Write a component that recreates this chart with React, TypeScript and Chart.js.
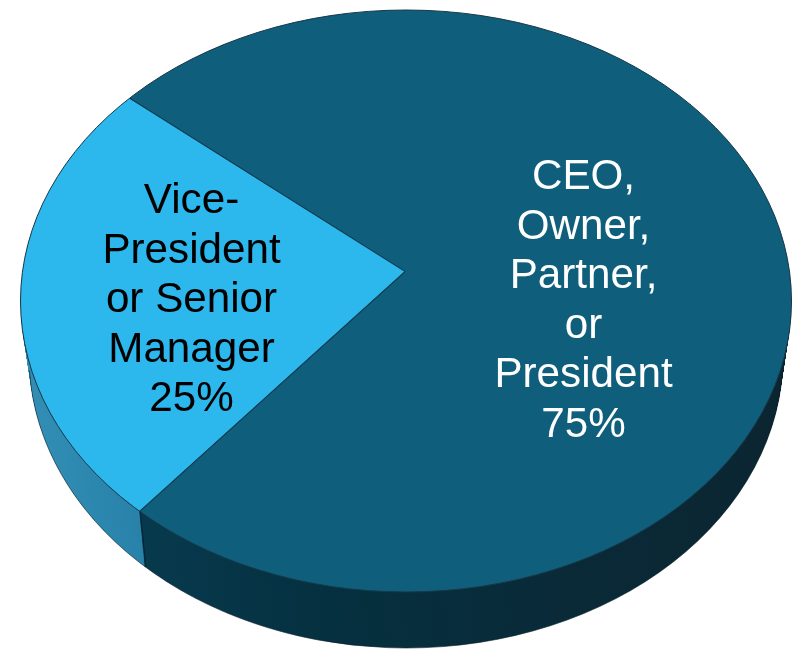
import React, { useEffect, useRef } from "react";
import { Chart, registerables } from "chart.js";

Chart.register(...registerables);

const categories = ["CEO, Owner, Partner, or President", "Vice-President or Senior Manager"];
const shares = [75, 25];
const sliceColors = ["#0f5e7c", "#2cb7ed"];
const labelLines = [
  ["CEO,", "Owner,", "Partner,", "or", "President", "75%"],
  ["Vice-", "President", "or Senior", "Manager", "25%"],
];
const labelColors = ["#ffffff", "#000000"];

const W = 797;
const H = 651;
const START_ANGLE = 309.84;
const APEX = { x: 405, y: 271.5 };
const SCALE_X = 1.4;
const SCALE_Y = SCALE_X * 0.754;
const TOP = { cx: 406, cy: 301, rx: 385.5, ry: 291 };
const BOTTOM = { cx: 406, cy: 356, rx: 377, ry: 292 };
const DEPTH = 55;
const DRIFT_X = 6;
const LABEL_X = [583.5, 191.5];
const LABEL_Y = [189, 213];
const LINE_H = [49.5, 49.5];

function ellipsePath(ctx: CanvasRenderingContext2D, e: typeof TOP) {
  ctx.beginPath();
  ctx.ellipse(e.cx, e.cy, e.rx, e.ry, 0, 0, Math.PI * 2);
}

function faceTransform(ctx: CanvasRenderingContext2D, arc: any, dx: number, dy: number) {
  ctx.translate(APEX.x + dx, APEX.y + dy);
  ctx.scale(SCALE_X, SCALE_Y);
  ctx.translate(-arc.x, -arc.y);
}

function wallGradient(ctx: CanvasRenderingContext2D, arc: any, stops: [number, string][]) {
  const toLocal = (x: number) => (x - APEX.x) / SCALE_X + arc.x;
  const g = ctx.createLinearGradient(toLocal(0), 0, toLocal(W), 0);
  stops.forEach(([x, c]) => g.addColorStop(x / W, c));
  return g;
}

const pie3d = {
  id: "pie3d",
  beforeDatasetsDraw(chart: any) {
    const ctx: CanvasRenderingContext2D = chart.ctx;
    const arcs = chart.getDatasetMeta(0).data;
    const wallFills = [
      wallGradient(ctx, arcs[0], [
        [0, "#07394d"],
        [150, "#07394d"],
        [330, "#05303f"],
        [560, "#0a2a38"],
        [797, "#0b2530"],
      ]),
      wallGradient(ctx, arcs[1], [
        [0, "#358fb5"],
        [60, "#2f8bb2"],
        [150, "#2780a8"],
        [797, "#2780a8"],
      ]),
    ];
    for (let d = DEPTH; d >= 1; d--) {
      const t = d / DEPTH;
      ctx.save();
      ellipsePath(ctx, {
        cx: TOP.cx + (BOTTOM.cx - TOP.cx) * t,
        cy: TOP.cy + (BOTTOM.cy - TOP.cy) * t,
        rx: TOP.rx + (BOTTOM.rx - TOP.rx) * t,
        ry: TOP.ry + (BOTTOM.ry - TOP.ry) * t,
      });
      ctx.clip();
      faceTransform(ctx, arcs[0], DRIFT_X * t, d);
      arcs.forEach((arc: any, i: number) => {
        const layer = Object.create(arc);
        layer.options = { ...arc.options, backgroundColor: wallFills[i], borderColor: "#04202c", borderWidth: 1.2 };
        arc.draw.call(layer, ctx);
      });
      ctx.restore();
    }
    ctx.save();
    ctx.strokeStyle = "rgba(10,30,42,0.6)";
    ctx.lineWidth = 1;
    ctx.beginPath();
    ctx.ellipse(BOTTOM.cx, BOTTOM.cy, BOTTOM.rx, BOTTOM.ry, 0, 0.05, Math.PI - 0.05);
    ctx.stroke();
    ctx.restore();

    ctx.save();
    ellipsePath(ctx, TOP);
    ctx.clip();
    faceTransform(ctx, arcs[0], 0, 0);
  },
  afterDatasetsDraw(chart: any) {
    const ctx: CanvasRenderingContext2D = chart.ctx;
    ctx.restore();
    ctx.save();
    ctx.strokeStyle = "#17384a";
    ctx.lineWidth = 1;
    ellipsePath(ctx, TOP);
    ctx.stroke();
    ctx.font = '42.2px "Liberation Sans", Arial, sans-serif';
    ctx.textAlign = "center";
    ctx.textBaseline = "alphabetic";
    labelLines.forEach((lines, i) => {
      ctx.fillStyle = labelColors[i];
      lines.forEach((line, j) => ctx.fillText(line, LABEL_X[i], LABEL_Y[i] + j * LINE_H[i]));
    });
    ctx.restore();
  },
};

export default function App() {
  const ref = useRef<HTMLCanvasElement>(null);
  useEffect(() => {
    const chart = new Chart(ref.current!, {
      type: "pie",
      data: {
        labels: categories,
        datasets: [
          {
            data: shares,
            backgroundColor: sliceColors,
            borderColor: "#123a4e",
            borderWidth: 0.9,
            clip: false,
          } as any,
        ],
      },
      options: {
        responsive: false,
        animation: false,
        rotation: START_ANGLE,
        plugins: { legend: { display: false }, tooltip: { enabled: false } },
      },
      plugins: [pie3d as any],
    });
    return () => chart.destroy();
  }, []);
  return (
    <div style={{ position: "fixed", left: 0, top: 0, background: "#fff" }}>
      <canvas ref={ref} width={W} height={H} style={{ display: "block" }} />
    </div>
  );
}
